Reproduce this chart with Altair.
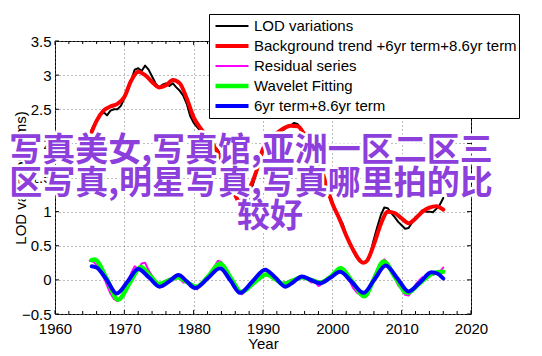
import altair as alt
import pandas as pd

# ---------------- data ----------------
SERIES = ["LOD variations", "Background trend +6yr term+8.6yr term",
          "Residual series", "Wavelet Fitting", "6yr term+8.6yr term"]
COLORS = ["#000000", "#ff0000", "#ff00ff", "#00ff00", "#0000ff"]
WIDTHS = [2, 4, 2, 4.5, 4]
INTERP = ["linear", "monotone", "linear", "monotone", "monotone"]

lod_years = [1965.2, 1965.5, 1966.0, 1966.5, 1967.0, 1967.5, 1968.0, 1968.5, 1969.0, 1969.5,
             1970.0, 1970.5, 1971.0, 1971.5, 1972.0, 1972.5, 1973.0, 1973.5, 1974.0, 1974.5,
             1975.0, 1975.5, 1976.0, 1976.5, 1977.0, 1977.5, 1978.0, 1978.5, 1979.0, 1979.5,
             1980.0, 1980.5, 1981.0, 1981.5, 1982.0, 1982.5, 1983.0, 1983.5, 1984.0, 1984.5,
             1985.0, 1985.5, 1986.0, 1986.5, 1987.0, 1987.5, 1988.0, 1988.5, 1989.0, 1989.5,
             1990.0, 1990.5, 1991.0, 1991.5, 1992.0, 1992.5, 1993.0, 1993.5, 1994.0, 1994.5,
             1995.0, 1995.5, 1996.0, 1996.5, 1997.0, 1997.5, 1998.0, 1998.5, 1999.0, 1999.5,
             2000.0, 2000.5, 2001.0, 2001.5, 2002.0, 2002.5, 2003.0, 2003.5, 2004.0, 2004.5,
             2005.0, 2005.5, 2006.0, 2006.5, 2007.0, 2007.5, 2008.0, 2008.5, 2009.0, 2009.5,
             2010.0, 2010.5, 2011.0, 2011.5, 2012.0, 2012.5, 2013.0, 2013.5, 2014.0, 2014.5,
             2015.0, 2015.5, 2016.0]
lod_values = [2.18, 2.25, 2.33, 2.42, 2.46, 2.41, 2.48, 2.50, 2.50, 2.55,
              2.66, 2.78, 2.92, 3.08, 3.10, 3.06, 3.14, 3.08, 2.98, 2.88,
              2.82, 2.86, 2.88, 2.84, 2.88, 2.82, 2.77, 2.70, 2.58, 2.40,
              2.30, 2.24, 2.18, 2.12, 2.06, 2.00, 1.98, 1.90, 1.80, 1.65,
              1.50, 1.35, 1.22, 1.15, 1.14, 1.12, 1.20, 1.38, 1.55, 1.75,
              1.90, 2.00, 2.05, 2.10, 2.12, 2.18, 2.20, 2.24, 2.26, 2.30,
              2.28, 2.22, 2.10, 2.05, 1.95, 1.85, 1.70, 1.58, 1.42, 1.28,
              1.15, 1.00, 0.92, 0.82, 0.66, 0.55, 0.42, 0.33, 0.27, 0.25,
              0.28, 0.40, 0.60, 0.78, 0.95, 1.06, 1.05, 0.98, 0.92, 0.85,
              0.80, 0.75, 0.76, 0.84, 0.92, 0.96, 1.02, 1.00, 1.00, 0.99,
              1.04, 1.10, 1.20]

trend_years = [1965.3, 1966.0, 1967.0, 1968.0, 1969.0, 1970.0, 1971.0, 1972.0, 1973.0, 1974.0,
               1975.0, 1976.0, 1977.0, 1978.0, 1979.0, 1980.0, 1981.0, 1982.0, 1983.0, 1984.0,
               1985.0, 1986.0, 1986.6, 1987.0, 1988.0, 1989.0, 1990.0, 1991.0, 1992.0, 1993.0,
               1994.0, 1995.0, 1996.0, 1997.0, 1998.0, 1999.0, 2000.0, 2001.0, 2002.0, 2003.0,
               2004.0, 2004.5, 2005.0, 2006.0, 2007.0, 2008.0, 2009.0, 2010.0, 2011.0, 2012.0,
               2013.0, 2014.0, 2015.0, 2016.0]
trend_values = [2.17, 2.33, 2.48, 2.54, 2.58, 2.68, 2.92, 3.05, 3.00, 2.90,
                2.82, 2.85, 2.93, 2.88, 2.66, 2.38, 2.22, 2.09, 1.95, 1.76,
                1.50, 1.24, 1.14, 1.18, 1.33, 1.58, 1.92, 2.08, 2.15, 2.22,
                2.26, 2.25, 2.13, 1.98, 1.76, 1.43, 1.12, 0.90, 0.65, 0.44,
                0.28, 0.25, 0.28, 0.52, 0.82, 1.00, 0.98, 0.90, 0.83, 0.90,
                1.00, 1.06, 1.08, 1.03]

resid_years = [1965.0, 1965.5, 1966.0, 1966.5, 1967.0, 1967.5, 1968.0, 1968.5, 1969.0, 1969.5,
               1970.0, 1970.5, 1971.0, 1971.5, 1972.0, 1972.5, 1973.0, 1973.5, 1974.0, 1974.5,
               1975.0, 1975.5, 1976.0, 1976.5, 1977.0, 1977.5, 1978.0, 1978.5, 1979.0, 1979.5,
               1980.0, 1980.5, 1981.0, 1981.5, 1982.0, 1982.5, 1983.0, 1983.5, 1984.0, 1984.5,
               1985.0, 1985.5, 1986.0, 1986.5, 1987.0, 1987.5, 1988.0, 1988.5, 1989.0, 1989.5,
               1990.0, 1990.5, 1991.0, 1991.5, 1992.0, 1992.5, 1993.0, 1993.5, 1994.0, 1994.5,
               1995.0, 1995.5, 1996.0, 1996.5, 1997.0, 1997.5, 1998.0, 1998.5, 1999.0, 1999.5,
               2000.0, 2000.5, 2001.0, 2001.5, 2002.0, 2002.5, 2003.0, 2003.5, 2004.0, 2004.5,
               2005.0, 2005.5, 2006.0, 2006.5, 2007.0, 2007.5, 2008.0, 2008.5, 2009.0, 2009.5,
               2010.0, 2010.5, 2011.0, 2011.5, 2012.0, 2012.5, 2013.0, 2013.5, 2014.0, 2014.5,
               2015.0, 2015.5, 2016.0]
resid_values = [0.28, 0.27, 0.22, 0.14, 0.05, -0.08, -0.20, -0.28, -0.31, -0.27,
                -0.17, -0.02, 0.10, 0.20, 0.16, 0.24, 0.25, 0.14, 0.06, -0.03,
                -0.06, -0.05, -0.01, 0.02, -0.01, 0.05, 0.02, -0.04, -0.03, -0.10,
                -0.08, -0.14, -0.08, -0.04, 0.05, 0.12, 0.20, 0.28, 0.26, 0.15,
                0.08, -0.05, -0.13, -0.19, -0.21, -0.16, -0.12, -0.06, 0.00, 0.05,
                0.08, 0.07, 0.06, 0.02, -0.01, -0.05, -0.04, -0.03, 0.00, 0.01,
                0.00, 0.04, 0.02, 0.00, -0.04, -0.03, -0.09, -0.06, -0.02, 0.03,
                0.07, 0.13, 0.17, 0.14, 0.04, -0.02, -0.12, -0.18, -0.22, -0.23,
                -0.18, -0.08, 0.05, 0.16, 0.25, 0.30, 0.24, 0.14, 0.03, -0.08,
                -0.14, -0.22, -0.23, -0.16, -0.07, -0.01, 0.04, 0.02, 0.08, 0.07,
                0.10, 0.12, 0.18]

wave_years = [1965.3, 1965.7, 1967.4, 1969.1, 1970.8, 1972.4, 1973.7, 1975.0, 1976.4, 1977.7,
              1979.0, 1980.4, 1982.1, 1983.8, 1985.4, 1986.9, 1988.7, 1990.5, 1991.8, 1993.0,
              1994.3, 1995.6, 1996.9, 1998.3, 1999.8, 2001.2, 2002.9, 2004.6, 2006.0, 2007.4,
              2009.1, 2010.8, 2012.7, 2014.6, 2016.0]
wave_values = [0.29, 0.30, 0.03, -0.29, -0.04, 0.19, 0.06, -0.06, -0.01, 0.04,
               -0.03, -0.10, 0.05, 0.24, 0.02, -0.18, -0.04, 0.08, 0.01, -0.06,
               -0.01, 0.04, 0.00, -0.04, 0.05, 0.17, -0.03, -0.24, 0.01, 0.27,
               0.03, -0.19, -0.04, 0.10, 0.12]

fit_years = [1965.3, 1966.0, 1967.4, 1968.9, 1970.5, 1972.0, 1973.6, 1975.1, 1976.5, 1977.8,
             1979.0, 1980.2, 1982.0, 1983.8, 1985.3, 1986.7, 1988.5, 1990.3, 1991.8, 1993.2,
             1994.4, 1995.6, 1996.9, 1998.2, 1999.7, 2001.1, 2002.8, 2004.5, 2006.1, 2007.7,
             2009.4, 2011.0, 2012.7, 2014.3, 2015.2, 2016.0]
fit_values = [0.20, 0.18, 0.01, -0.20, -0.02, 0.16, 0.03, -0.10, -0.02, 0.07,
              -0.02, -0.12, 0.02, 0.17, -0.01, -0.19, -0.02, 0.15, 0.03, -0.10,
              -0.03, 0.05, 0.00, -0.05, 0.03, 0.12, -0.03, -0.19, 0.01, 0.21,
              0.02, -0.17, -0.03, 0.11, 0.09, 0.02]

X_TICKS = [1960, 1970, 1980, 1990, 2000, 2010, 2020]
X_MINOR = [1962, 1964, 1966, 1968, 1972, 1974, 1976, 1978, 1982, 1984, 1986, 1988,
           1992, 1994, 1996, 1998, 2002, 2004, 2006, 2008, 2012, 2014, 2016, 2018]
Y_TICKS = [-0.5, 0, 0.5, 1, 1.5, 2, 2.5, 3, 3.5]

OVERLAY = ["写真美女,写真馆,亚洲一区二区三", "区写真,明星写真,写真哪里拍的比", "较好"]

# ---------------- layout / style ----------------
W, H = 416, 273
FONT = "Liberation Sans"
PURPLE = "#8d3fdc"
OVERLAY_POS = [(196, 110), (196, 143), (215, 176)]

xscale = alt.Scale(domain=[1960, 2020], nice=False, zero=False)
yscale = alt.Scale(domain=[-0.5, 3.5], nice=False, zero=False)

legend = alt.Legend(title=None, orient="none", legendX=154, legendY=-27,
                    symbolType="stroke", symbolSize=1089, clipHeight=20, rowPadding=0,
                    padding=2, labelFontSize=15, labelFont=FONT, labelColor="black",
                    labelOffset=3, symbolOffset=2, strokeColor="black", fillColor="white",
                    labelLimit=400)

xaxis = alt.Axis(values=X_TICKS, format="d", title="Year", ticks=False, tickSize=0,
                 domain=False, labelFlush=False, labelOverlap=False, labelPadding=7,
                 labelFontSize=15, labelFont=FONT, labelColor="black",
                 grid=True, gridDash=[1, 3], gridColor="#777777", gridWidth=1,
                 titleFontSize=15, titleFont=FONT, titleFontWeight="normal", titleColor="black",
                 titleX=208, titleY=29, titleBaseline="middle", titleAlign="center")
yaxis = alt.Axis(values=Y_TICKS, format="~g", title="LOD variations (ms)", ticks=False, tickSize=0,
                 domain=False, labelFlush=False, labelOverlap=False, labelPadding=4,
                 labelFontSize=15, labelFont=FONT, labelColor="black",
                 grid=True, gridDash=[1, 3], gridColor="#777777", gridWidth=1,
                 titleFontSize=15, titleFont=FONT, titleFontWeight="normal", titleColor="black",
                 titleX=-35, titleY=136.5, titleAngle=270, titleBaseline="middle",
                 titleAlign="center")

all_years = [lod_years, trend_years, resid_years, wave_years, fit_years]
all_values = [lod_values, trend_values, resid_values, wave_values, fit_values]

layers = []
for i, name in enumerate(SERIES):
    df = pd.DataFrame({"year": all_years[i], "value": all_values[i], "series": name})
    layers.append(
        alt.Chart(df).mark_line(interpolate=INTERP[i], strokeJoin="round", strokeCap="round").encode(
            x=alt.X("year:Q", scale=xscale, axis=xaxis),
            y=alt.Y("value:Q", scale=yscale, axis=yaxis),
            color=alt.Color("series:N", scale=alt.Scale(domain=SERIES, range=COLORS), legend=legend),
            strokeWidth=alt.StrokeWidth("series:N",
                                        scale=alt.Scale(type="ordinal", domain=SERIES, range=WIDTHS),
                                        legend=legend),
        )
    )

# inward tick marks (MATLAB style box)
xmaj = pd.DataFrame({"year": X_TICKS})
xmin = pd.DataFrame({"year": X_MINOR})
ymaj = pd.DataFrame({"value": Y_TICKS})
tick_layers = []
for d, L in [(xmaj, 4), (xmin, 3)]:
    tick_layers.append(alt.Chart(d).mark_rule(color="black", strokeWidth=1).encode(
        x=alt.X("year:Q", scale=xscale, axis=xaxis), y=alt.value(H), y2=alt.value(H - L)))
    tick_layers.append(alt.Chart(d).mark_rule(color="black", strokeWidth=1).encode(
        x=alt.X("year:Q", scale=xscale, axis=xaxis), y=alt.value(0), y2=alt.value(L)))
tick_layers.append(alt.Chart(ymaj).mark_rule(color="black", strokeWidth=1).encode(
    y=alt.Y("value:Q", scale=yscale, axis=yaxis), x=alt.value(0), x2=alt.value(4)))
tick_layers.append(alt.Chart(ymaj).mark_rule(color="black", strokeWidth=1).encode(
    y=alt.Y("value:Q", scale=yscale, axis=yaxis), x=alt.value(W), x2=alt.value(W - 4)))

# overlay text
text_layers = []
for line, (tx, ty) in zip(OVERLAY, OVERLAY_POS):
    d = pd.DataFrame({"t": [line]})
    text_layers.append(alt.Chart(d).mark_text(
        font="Noto Sans CJK SC", fontSize=33, fontWeight="bold", align="center", baseline="middle",
        color="white", stroke="white", strokeWidth=5, strokeJoin="round").encode(
        text="t:N", x=alt.value(tx), y=alt.value(ty)))
for line, (tx, ty) in zip(OVERLAY, OVERLAY_POS):
    d = pd.DataFrame({"t": [line]})
    text_layers.append(alt.Chart(d).mark_text(
        font="Noto Sans CJK SC", fontSize=33, fontWeight="bold", align="center", baseline="middle",
        color=PURPLE).encode(text="t:N", x=alt.value(tx), y=alt.value(ty)))

chart = alt.layer(*layers, *tick_layers, *text_layers).properties(
    width=W, height=H,
    autosize=alt.AutoSizeParams(type="none"),
    padding={"left": 55, "top": 41, "right": 71, "bottom": 42},
    background="white",
).configure_view(stroke="black", strokeWidth=1)

chart.save("out.html", embed_options={"renderer": "svg", "actions": False})
